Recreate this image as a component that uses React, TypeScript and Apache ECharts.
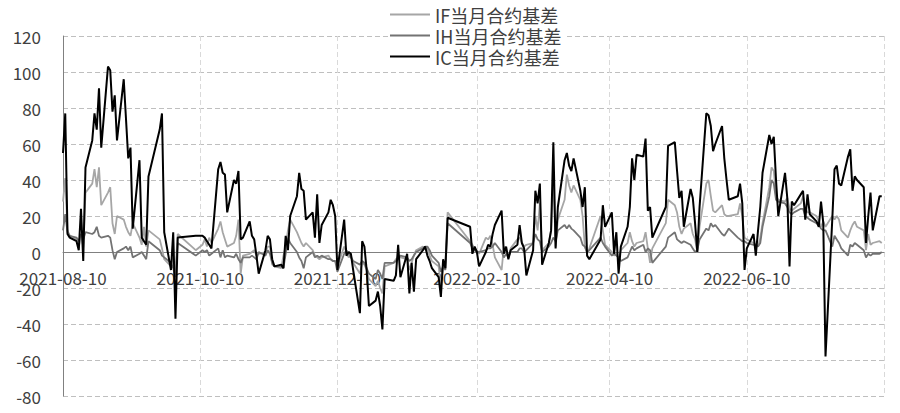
import React, { useEffect, useRef } from "react";
import * as echarts from "echarts";

// Trading days per month
const months = [
  "2021-08", "2021-09", "2021-10", "2021-11", "2021-12", "2022-01",
  "2022-02", "2022-03", "2022-04", "2022-05", "2022-06", "2022-07", "2022-08",
];
const monthDays: number[][] = [
  [10, 11, 12, 13, 16, 17, 18, 19, 20, 23, 24, 25, 26, 27, 30, 31],
  [1, 2, 3, 6, 7, 8, 9, 10, 13, 14, 15, 16, 17, 22, 23, 24, 27, 28, 29, 30],
  [8, 11, 12, 13, 14, 15, 18, 19, 20, 21, 22, 25, 26, 27, 28, 29],
  [1, 2, 3, 4, 5, 8, 9, 10, 11, 12, 15, 16, 17, 18, 19, 22, 23, 24, 25, 26, 29, 30],
  [1, 2, 3, 6, 7, 8, 9, 10, 13, 14, 15, 16, 17, 20, 21, 22, 23, 24, 27, 28, 29, 30, 31],
  [4, 5, 6, 7, 10, 11, 12, 13, 14, 17, 18, 19, 20, 21, 24, 25, 26, 27, 28],
  [7, 8, 9, 10, 11, 14, 15, 16, 17, 18, 21, 22, 23, 24, 25, 28],
  [1, 2, 3, 4, 7, 8, 9, 10, 11, 14, 15, 16, 17, 18, 21, 22, 23, 24, 25, 28, 29, 30, 31],
  [1, 6, 7, 8, 11, 12, 13, 14, 15, 18, 19, 20, 21, 22, 25, 26, 27, 28, 29],
  [5, 6, 9, 10, 11, 12, 13, 16, 17, 18, 19, 20, 23, 24, 25, 26, 27, 30, 31],
  [1, 2, 6, 7, 8, 9, 10, 13, 14, 15, 16, 17, 20, 21, 22, 23, 24, 27, 28, 29, 30],
  [1, 4, 5, 6, 7, 8, 11, 12, 13, 14, 15, 18, 19, 20, 21, 22, 25, 26, 27, 28, 29],
  [1, 2, 3, 4, 5, 8, 9],
];

const ifBasis = [
  28, 41, 12, 9, 7, 2, 10, 3, 33, 38, 46, 36, 47, 26, 33, 36,
  16, 10, 20, 18, 14, 11, 9, 16, 8, 4, 14, 3, 12, 7, 2, -4, -8, -3, -10, 10,
  1, 4, 7, 3, 8, 5, 13, 17, 11, 7, 3, 5, 9, 18, -12, -2,
  -1, 0, 1, -2, -1, 0, 3, 3, -7, -8, -9, -2, 3, 12, 18, 11, 8, 5, 3, 5, 1, -2,
  -3, -4, -3, -2, -4, -5, -5, -8, 3, 0, -3, -2, -6, -12, -6, -7, -10, -15, -19, -16, -20, -23, -8,
  -6, -4, -3, -3, -4, -10, -6, -2, 1, 3, 2, 2, -2, -5, -8, -19, -9, -6, 22,
  6, 4, 2, 1, -1, 8, 7, 9, 4, -3, -10, 3, 1, -3, 2, 7,
  8, 5, 3, 4, 5, 20, 12, 27, 1, 5, 12, 43, 3, 18, 29, 43, 37, 33, 37, 29, 20, 3, -1,
  2, 20, 12, 4, 0, -2, -1, -4, 1, 5, 11, 6, 3, 5, 6, 11, 2, -6, 2,
  16, 29, 26, 22, 14, 10, 13, 16, 10, 7, 0, 14, 38, 40, 31, 23, 22, 26, 21,
  20, 20, 21, 27, 20, 8, 7, 5, 4, 3, 8, 16, 36, 47, 45, 31, 29, 28, 30, 24, 23,
  24, 27, 31, 24, 22, 22, 20, 17, 14, 17, 14, 20, 18, 20, 18, 12, 8, 12, 15, 17, 14,
  12, 1, 10, 4, 5, 6, 5,
];

const ihBasis = [
  12, 21, 11, 9, 8, 6, 10, 7, 11, 10, 11, 14, 9, 8, 9, 8,
  1, -4, 0, 2, 3, 1, 3, -3, -1, 0, -2, -4, 6, 1, -2, -3, -6, -9, -14, 5,
  -2, 1, 0, 1, -2, -1, 2, -3, 1, -3, -2, -3, -1, -4, -6, -3,
  -3, -2, -3, -4, 0, -2, 1, -1, -6, -8, -8, -9, -1, 8, 5, 0, -3, -5, -9, -3, 0, -3,
  -2, -3, -2, -4, -4, -5, -5, -11, -1, 1, -1, -3, -5, -7, -5, -6, -9, -12, -15, -10, -12, -15, -6,
  -6, -5, -4, -2, -3, -5, -4, -2, 0, 2, 3, 3, 1, -2, -6, -11, -8, -10, 16,
  5, 2, 1, 0, 0, 1, 2, 2, 3, 5, 0, -3, -1, -3, 0, 0,
  2, 2, 0, 1, 5, 10, 7, 6, 0, 3, 5, 8, 6, 12, 15, 13, 15, 13, 12, 8, 4, 3, 0,
  1, 8, 5, 3, -2, -1, -2, -3, -5, -3, 0, 3, 1, 2, 4, 0, 2, 1, -6,
  3, 8, 11, 7, 6, 5, 6, 4, 2, 0, 1, 7, 13, 12, 16, 14, 15, 10, 9,
  11, 13, 8, 7, 6, 6, 5, 4, 4, 3, 5, 14, 31, 40, 38, 29, 28, 27, 25, 22, 21,
  22, 24, 24, 20, 19, 18, 16, 15, 13, 12, 12, 3, 9, 7, 5, 2, -2, 4, 3, 5, 4,
  1, -3, -1, -2, -1, -1, 0,
];

const icBasis = [
  55, 77, 10, 8, 6, 1, 24, -5, 47, 62, 77, 68, 91, 58, 103, 101,
  78, 87, 62, 96, 74, 52, 58, 13, 51, 8, 6, 4, 42, 68, 77, 11, -10, 11, -37, 8,
  9, 9, 8, 6, 4, 2, 46, 50, 44, 43, 22, 40, 38, 45, 7, 8,
  17, 9, 7, -2, -12, 1, 9, 7, -4, -8, -7, -9, 9, 1, 20, 31, 44, 35, 34, 18, 22, 8,
  32, 5, 15, 22, 29, 26, 20, -10, 18, -2, 0, -1, -10, -34, 6, 3, -10, -30, -27, -22, -30, -43, -15,
  -16, -13, 4, -14, -1, -23, -6, -22, -4, 1, 3, -2, -5, -9, -14, -25, -4, -9, 19,
  14, -1, 3, 0, -8, 0, 4, 3, 10, 15, 23, -1, 3, -4, 1, 4,
  15, 5, 2, -13, 1, 34, 27, 38, -7, 5, 12, 61, 2, 25, 51, 55, 48, 45, 52, 34, 25, 36, -2,
  -4, 7, 26, 14, 22, -1, 11, -12, 3, 14, 25, 52, 40, 54, 53, 63, 23, 25, 8,
  25, 59, 61, 45, 30, 34, 14, 35, 30, 16, 0, 25, 77, 76, 70, 56, 60, 70, 52,
  40, 29, 31, 38, 27, -10, 2, 10, -2, 12, 25, 44, 65, 60, 64, 40, 20, 44, 30, -8, 28,
  26, 32, 34, 18, 32, 21, 17, 14, 28, 16, -58, 18, 46, 48, 38, 37, 53, 57, 34, 42, 40,
  36, 5, 20, 33, 12, 31, 31,
];

const seriesNames = ["IF当月合约基差", "IH当月合约基差", "IC当月合约基差"];
const seriesColors = ["#a6a6a6", "#737373", "#000000"];
const xTickDates = ["2021-08-10", "2021-10-10", "2021-12-10", "2022-02-10", "2022-04-10", "2022-06-10", "2022-08-10"];
const xLabelDates = ["2021-08-10", "2021-10-10", "2021-12-10", "2022-02-10", "2022-04-10", "2022-06-10"];
const yMin = -80;
const yMax = 120;
const yStep = 20;

const FONT = "'Noto Sans CJK SC', 'Noto Sans', sans-serif";
const CHART_H = 413;
const GRID_TOP = 36;
const GRID_BOTTOM = 17;

const DAY = 86400000;
function toDay(s: string): number {
  const [y, m, d] = s.split("-").map(Number);
  return Math.round(Date.UTC(y, m - 1, d) / DAY);
}
function pad(n: number): string {
  return n < 10 ? "0" + n : String(n);
}
function fmt(v: number): string {
  const d = new Date(Math.round(v) * DAY);
  return `${d.getUTCFullYear()}-${pad(d.getUTCMonth() + 1)}-${pad(d.getUTCDate())}`;
}

const dates: string[] = months.flatMap((m, i) => monthDays[i].map((d) => `${m}-${pad(d)}`));

export default function App() {
  const ref = useRef<HTMLDivElement>(null);
  useEffect(() => {
    if (!ref.current) return;
    const chart = echarts.init(ref.current, undefined, { renderer: "svg" });
    const values = [ifBasis, ihBasis, icBasis];
    const tickDays = xTickDates.map(toDay);
    // distance from the bottom of the plot to the zero line, so the date axis sits on y = 0
    const plotH = CHART_H - GRID_TOP - GRID_BOTTOM;
    const zeroOffset = ((0 - yMin) / (yMax - yMin)) * plotH;
    chart.setOption({
      animation: false,
      backgroundColor: "#ffffff",
      textStyle: { fontFamily: FONT },
      grid: {
        left: 63,
        right: 16,
        top: GRID_TOP,
        bottom: GRID_BOTTOM,
        containLabel: false,
        outerBoundsMode: "none",
      },
      legend: {
        orient: "vertical",
        left: 388,
        top: 2,
        padding: [2, 4, 2, 2],
        backgroundColor: "#ffffff",
        icon: "rect",
        itemWidth: 40,
        itemHeight: 2,
        itemGap: 0,
        data: seriesNames,
        textStyle: { fontFamily: FONT, fontSize: 18, color: "#404040", lineHeight: 21 },
      },
      xAxis: [
        {
          type: "value",
          min: tickDays[0],
          max: tickDays[tickDays.length - 1],
          position: "bottom",
          offset: -zeroOffset,
          axisLine: { show: true, onZero: false, lineStyle: { color: "#808080", width: 1 } },
          axisTick: { show: false, customValues: tickDays },
          axisLabel: {
            customValues: xLabelDates.map(toDay),
            formatter: (v: number) => fmt(v),
            fontFamily: FONT,
            fontSize: 17,
            color: "#404040",
            margin: 17,
            showMinLabel: true,
          },
          splitLine: { show: true, lineStyle: { color: "#d9d9d9", type: [5, 3], width: 1 } },
        },
      ],
      yAxis: {
        type: "value",
        min: yMin,
        max: yMax,
        interval: yStep,
        axisLine: { show: true, onZero: false, lineStyle: { color: "#808080", width: 1 } },
        axisTick: { show: false },
        axisLabel: { fontFamily: FONT, fontSize: 17, color: "#404040", margin: 22 },
        splitLine: { show: true, lineStyle: { color: "#bfbfbf", type: [5, 3], width: 1 } },
      },
      series: seriesNames.map((name, i) => ({
        name,
        type: "line",
        symbol: "none",
        showSymbol: false,
        data: dates.map((d, j) => [toDay(d), values[i][j]]),
        lineStyle: { color: seriesColors[i], width: i === 2 ? 2 : 1.8 },
        itemStyle: { color: seriesColors[i] },
        z: 2 + i,
      })),
    });
    return () => chart.dispose();
  }, []);
  return (
    <div
      ref={ref}
      style={{ position: "fixed", left: 0, top: 0, width: 900, height: CHART_H }}
    />
  );
}
